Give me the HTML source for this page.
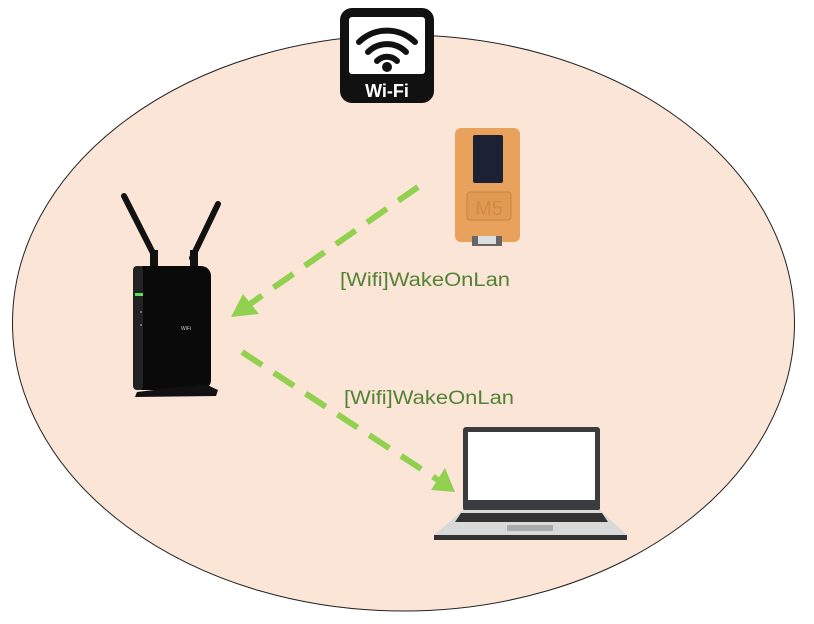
<!DOCTYPE html>
<html><head><meta charset="utf-8"><style>
html,body{margin:0;padding:0;background:#fff;width:814px;height:624px;overflow:hidden}
</style></head><body>
<svg width="814" height="624" viewBox="0 0 814 624" xmlns="http://www.w3.org/2000/svg">
<ellipse cx="403.5" cy="323" rx="391" ry="288" fill="#fbe5d6" stroke="#222" stroke-width="1"/>
<!-- wifi icon -->
<rect x="340" y="8" width="94" height="95" rx="12" fill="#111"/>
<rect x="349" y="17" width="76" height="57" rx="3" fill="#fff"/>
<g fill="none" stroke="#111" stroke-linecap="round">
<path d="M359 42 A40 40 0 0 1 415 42" stroke-width="6"/>
<path d="M368 52 A27 27 0 0 1 406 52" stroke-width="6"/>
<path d="M377 61 A14 14 0 0 1 397 61" stroke-width="6"/>
</g>
<circle cx="387" cy="67" r="5" fill="#111"/>
<text x="387" y="97" font-family="Liberation Sans, sans-serif" font-weight="bold" font-size="18" fill="#fff" text-anchor="middle">Wi-Fi</text>
<!-- M5 -->
<rect x="455" y="128" width="65" height="114" rx="6" fill="#e8a25c"/>
<rect x="473" y="135" width="30" height="48" rx="2" fill="#1c2233"/>
<rect x="467" y="192" width="44" height="28" rx="3" fill="#e09a52" stroke="#c9843f"/>
<text x="489" y="215" font-family="Liberation Sans, sans-serif" font-size="20" fill="#d48a45" text-anchor="middle">M5</text>
<rect x="472" y="236" width="30" height="10" fill="#666"/>
<rect x="478" y="236" width="18" height="8" fill="#ddd"/>
<!-- router -->
<line x1="124" y1="196" x2="154" y2="255" stroke="#111" stroke-width="6" stroke-linecap="round"/>
<line x1="218" y1="204" x2="192" y2="258" stroke="#111" stroke-width="6" stroke-linecap="round"/>
<rect x="150" y="250" width="8" height="20" fill="#111"/>
<rect x="190" y="250" width="8" height="20" fill="#111"/>
<rect x="133" y="266" width="78" height="124" rx="10" fill="#0a0a0a"/>
<rect x="133" y="266" width="10" height="124" rx="4" fill="#222"/>
<rect x="135" y="293" width="8" height="3" fill="#5ce05c"/>
<circle cx="141" cy="312" r="1" fill="#888"/><circle cx="141" cy="325" r="1" fill="#888"/>
<text x="186" y="330" font-family="Liberation Sans, sans-serif" font-size="5" fill="#ccc" text-anchor="middle">WiFi</text>
<path d="M137 392 L205 384 L218 390 L216 396 L135 397 Z" fill="#111"/>
<!-- laptop -->
<rect x="463" y="427" width="137" height="84" rx="3" fill="#3a3c40"/>
<rect x="468" y="432" width="127" height="68" fill="#fff"/>
<path d="M463 510 L600 510 L627 535 L434 535 Z" fill="#d9d9d9"/>
<path d="M461 513 L602 513 L608 522 L455 522 Z" fill="#333"/>
<rect x="507" y="525" width="46" height="6" fill="#aaa"/>
<rect x="434" y="535" width="193" height="5" fill="#333"/>
<!-- arrows -->
<g stroke="#92d050" stroke-width="6" stroke-dasharray="24,14">
<line x1="418" y1="187" x2="250" y2="304"/>
<line x1="242" y1="352" x2="438" y2="480"/>
</g>
<polygon points="231,317 243,294 259,314" fill="#92d050"/>
<polygon points="455,492 431,490 445,468" fill="#92d050"/>
<g font-family="Liberation Sans, sans-serif" font-size="19" fill="#548235">
<text x="340" y="286" textLength="170" lengthAdjust="spacingAndGlyphs">[Wifi]WakeOnLan</text>
<text x="344" y="404" textLength="170" lengthAdjust="spacingAndGlyphs">[Wifi]WakeOnLan</text>
</g>
</svg>
</body></html>
